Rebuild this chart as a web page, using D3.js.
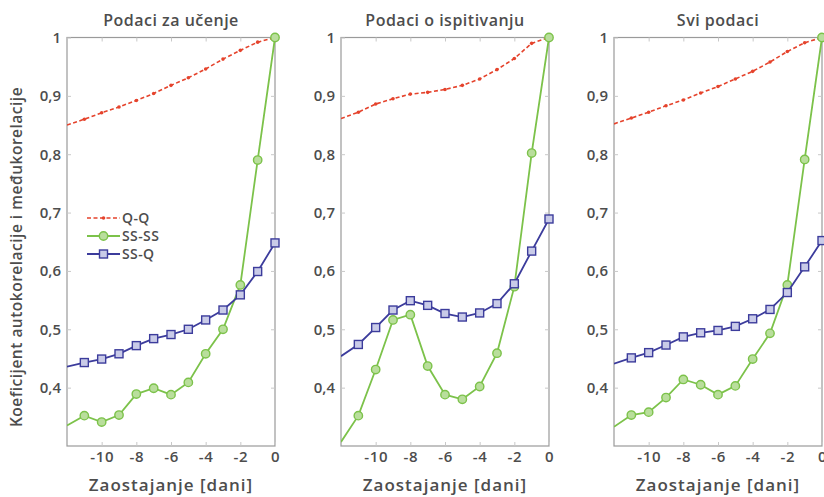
<!DOCTYPE html>
<html><head><meta charset="utf-8">
<script src="https://cdn.jsdelivr.net/npm/d3@7"></script>
<style>body{margin:0;background:#fff}svg{display:block}text{font-family:"Open Sans",sans-serif;fill:#4d4d4d}</style>
</head><body><svg id="c" width="824" height="497"></svg>
<script>
const lags = [-12,-11,-10,-9,-8,-7,-6,-5,-4,-3,-2,-1,0];
const titles = ["Podaci za učenje","Podaci o ispitivanju","Svi podaci"];
const seriesNames = ["Q-Q","SS-SS","SS-Q"];
const xTicks = [-10,-8,-6,-4,-2,0];
const yTicks = [0.4,0.5,0.6,0.7,0.8,0.9,1];
const xLabel = "Zaostajanje [dani]";
const yLabel = "Koeficijent autokorelacije i međukorelacije";

// Podaci za učenje
const qq1 = [0.850,0.860,0.871,0.881,0.892,0.904,0.918,0.931,0.946,0.963,0.978,0.992,1.0];
const ss1 = [0.335,0.352,0.341,0.353,0.389,0.399,0.388,0.409,0.458,0.500,0.576,0.790,1.0];
const sq1 = [0.436,0.443,0.449,0.458,0.472,0.484,0.491,0.500,0.516,0.533,0.559,0.599,0.648];
// Podaci o ispitivanju
const qq2 = [0.861,0.872,0.886,0.895,0.903,0.906,0.911,0.918,0.929,0.945,0.964,0.990,1.0];
const ss2 = [0.307,0.352,0.431,0.516,0.525,0.437,0.388,0.380,0.402,0.459,0.573,0.802,1.0];
const sq2 = [0.454,0.474,0.503,0.533,0.549,0.541,0.527,0.521,0.528,0.544,0.578,0.634,0.689];
// Svi podaci
const qq3 = [0.852,0.862,0.872,0.883,0.893,0.905,0.916,0.929,0.942,0.958,0.976,0.991,1.0];
const ss3 = [0.333,0.353,0.358,0.383,0.414,0.405,0.388,0.403,0.449,0.493,0.576,0.791,1.0];
const sq3 = [0.441,0.451,0.460,0.473,0.487,0.494,0.498,0.505,0.518,0.534,0.563,0.607,0.652];

const panels = [[qq1,ss1,sq1],[qq2,ss2,sq2],[qq3,ss3,sq3]];
const colors = ["#e5432c","#7cc24a","#3c3c9c"];

const svg = d3.select("#c");
const W = 208, plotTop = 37.5, plotBottom = 446;
const lefts = [67, 341, 614];
const y = d3.scaleLinear().domain([0.3,1]).range([plotBottom, plotTop]);
const tickFont = 15;

panels.forEach((ser, pi) => {
  const L = lefts[pi];
  const x = d3.scaleLinear().domain([-12,0]).range([L, L+W]);
  const g = svg.append("g");
  const cid = "clip"+pi;
  svg.append("defs").append("clipPath").attr("id",cid)
    .append("rect").attr("x",L).attr("y",plotTop-8).attr("width",W+8).attr("height",plotBottom-plotTop+8);

  g.append("rect").attr("x",L).attr("y",plotTop).attr("width",W).attr("height",plotBottom-plotTop)
    .attr("fill","none").attr("stroke","#9a9a9a").attr("stroke-width",1.2);
  const xa = g.append("g").attr("transform",`translate(0,${plotBottom})`)
    .call(d3.axisBottom(x).tickValues(xTicks).tickSizeInner(-4).tickSizeOuter(0).tickPadding(5)
      .tickFormat(d => d === 0 ? "0" : "-" + Math.abs(d)));
  xa.select(".domain").remove();
  xa.selectAll("line").attr("stroke","#c8c8c8");
  xa.selectAll("text").attr("font-size",tickFont).attr("font-weight",600).attr("fill","#4d4d4d")
    .attr("letter-spacing",0.6).style("font-family","'Open Sans',sans-serif");
  const xt = g.append("g").attr("transform",`translate(0,${plotTop})`)
    .call(d3.axisTop(x).tickValues(xTicks).tickSizeInner(-4).tickSizeOuter(0).tickFormat(""));
  xt.select(".domain").remove(); xt.selectAll("line").attr("stroke","#c8c8c8");
  const ya = g.append("g").attr("transform",`translate(${L},0)`)
    .call(d3.axisLeft(y).tickValues(yTicks).tickSizeInner(-4).tickSizeOuter(0).tickPadding(6)
      .tickFormat(d=> d===1 ? "1" : d3.format(".1f")(d).replace(".",",")));
  ya.select(".domain").remove(); ya.selectAll("line").attr("stroke","#c8c8c8");
  ya.selectAll("text").attr("font-size",tickFont).attr("font-weight",600).attr("fill","#4d4d4d").style("font-family","'Open Sans',sans-serif");
  const yr = g.append("g").attr("transform",`translate(${L+W},0)`)
    .call(d3.axisRight(y).tickValues(yTicks).tickSizeInner(-4).tickSizeOuter(0).tickFormat(""));
  yr.select(".domain").remove(); yr.selectAll("line").attr("stroke","#c8c8c8");

  g.append("text").attr("x",L+W/2).attr("y",26).attr("text-anchor","middle")
    .attr("font-size",16).attr("font-weight",600).attr("letter-spacing",0.5).attr("fill","#4a4a4a").text(titles[pi]);
  g.append("text").attr("x",L+W/2).attr("y",491).attr("text-anchor","middle")
    .attr("font-size",17).attr("font-weight",600).attr("letter-spacing",1).attr("fill","#4a4a4a").text(xLabel);

  const plot = g.append("g").attr("clip-path",`url(#${cid})`);
  const line = d3.line().x((d,i)=>x(lags[i])).y(d=>y(d));
  ser.forEach((vals, si) => {
    plot.append("path").attr("d",line(vals)).attr("fill","none")
      .attr("stroke",colors[si]).attr("stroke-width",si===0?1.6:1.8)
      .attr("stroke-dasharray",si===0?"4,2.5":null);
    const pts = vals.map((v,i)=>({x:lags[i],v})).filter(d=>d.x>=-11);
    if (si===0) {
      plot.selectAll(null).data(pts).enter().append("circle")
        .attr("cx",d=>x(d.x)).attr("cy",d=>y(d.v)).attr("r",1.8).attr("fill",colors[0]);
    } else if (si===1) {
      plot.selectAll(null).data(pts).enter().append("circle")
        .attr("cx",d=>x(d.x)).attr("cy",d=>y(d.v)).attr("r",4.2)
        .attr("fill","#b9de9c").attr("stroke",colors[1]).attr("stroke-width",1.4);
    } else {
      plot.selectAll(null).data(pts).enter().append("rect")
        .attr("x",d=>x(d.x)-4).attr("y",d=>y(d.v)-4).attr("width",8).attr("height",8)
        .attr("fill","#c9cbe8").attr("stroke",colors[2]).attr("stroke-width",1.4);
    }
  });
});

svg.append("text").attr("transform","translate(22,257) rotate(-90)").attr("text-anchor","middle")
  .attr("font-size",15.5).attr("font-weight",600).attr("letter-spacing",0.5).attr("fill","#4a4a4a").text(yLabel);

const lg = svg.append("g");
const rows = [218, 236, 254];
seriesNames.forEach((n, i) => {
  const yy = rows[i];
  lg.append("line").attr("x1",87).attr("x2",120).attr("y1",yy).attr("y2",yy)
    .attr("stroke",colors[i]).attr("stroke-width",i===0?1.6:1.8).attr("stroke-dasharray",i===0?"4,2.5":null);
  if (i===0) lg.append("circle").attr("cx",103.5).attr("cy",yy).attr("r",1.8).attr("fill",colors[0]);
  if (i===1) lg.append("circle").attr("cx",103.5).attr("cy",yy).attr("r",4.2).attr("fill","#b9de9c").attr("stroke",colors[1]).attr("stroke-width",1.4);
  if (i===2) lg.append("rect").attr("x",99.5).attr("y",yy-4).attr("width",8).attr("height",8).attr("fill","#c9cbe8").attr("stroke",colors[2]).attr("stroke-width",1.4);
  lg.append("text").attr("x",122).attr("y",yy+5).attr("font-size",14).attr("font-weight",600).attr("letter-spacing",0.4).attr("fill","#4a4a4a").text(n);
});
</script></body></html>
